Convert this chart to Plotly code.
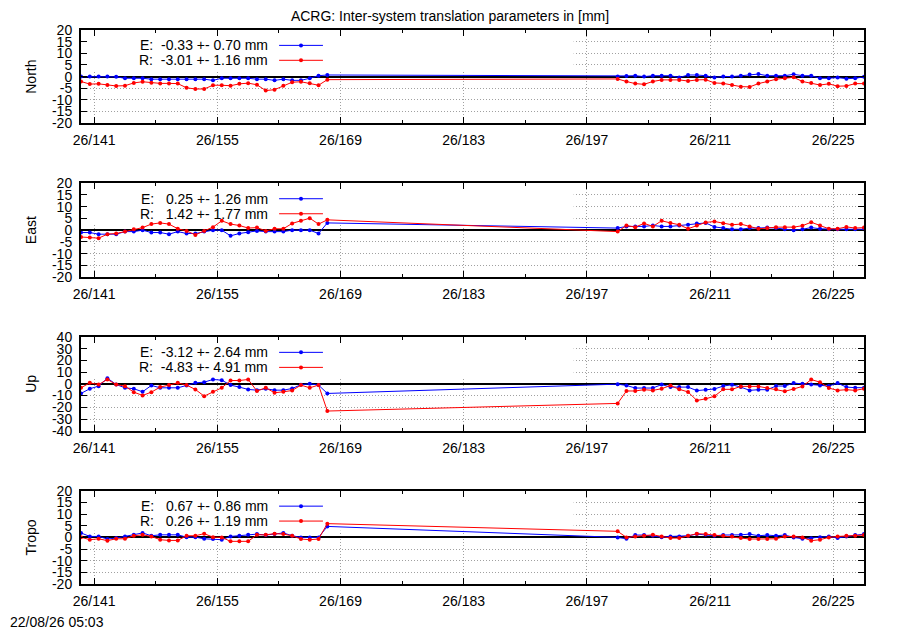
import plotly.graph_objects as go
from plotly.subplots import make_subplots

# day of year (2026), two observation blocks
days = [139.5, 140.5, 141.5, 142.5, 143.5, 144.5, 145.5, 146.5, 147.5, 148.5,
        149.5, 150.5, 151.5, 152.5, 153.5, 154.5, 155.5, 156.5, 157.5, 158.5,
        159.5, 160.5, 161.5, 162.5, 163.5, 164.5, 165.5, 166.5, 167.5,
        200.5, 201.5, 202.5, 203.5, 204.5, 205.5, 206.5, 207.5, 208.5, 209.5,
        210.5, 211.5, 212.5, 213.5, 214.5, 215.5, 216.5, 217.5, 218.5, 219.5,
        220.5, 221.5, 222.5, 223.5, 224.5, 225.5, 226.5, 227.5, 228.5]

north_e = [0, 0, 0, 0, -0.1, -0.7, -0.7, -0.7, -1.1, -1.1, -1.1, -1.1, -1.1, -1.1, -1.1,
           -1.6, -0.7, -0.7, -0.7, -0.7, -1.1, -1.1, -1.6, -1.1, -1.6, -1.6, -0.7, 0.4, 0.7,
           0, 0.3, 0.4, 0, 0.4, 0.4, 0.4, -0.4, 0.7, 0.7, 0.4, -0.4, 0.1, 0, 0.4,
           0.9, 1.1, 0.4, 0.4, 0.4, 1.0, 0.4, 0.4, -0.7, -0.7, -0.4, -0.9, -0.7, -0.1]
north_r = [-2.1, -3.2, -3.1, -3.6, -4.0, -3.9, -2.7, -2.2, -2.6, -2.9, -2.9, -3.0, -4.8, -5.3, -5.3,
           -3.7, -3.7, -3.9, -3.1, -2.8, -3.5, -6.0, -5.6, -3.9, -2.4, -2.2, -2.8, -3.7, -1.3,
           -1.0, -2.1, -3.0, -3.3, -2.1, -1.4, -1.4, -1.4, -1.9, -1.4, -1.3, -2.7, -2.9, -3.6, -4.3,
           -4.4, -3.0, -2.1, -1.1, -0.7, -0.3, -2.1, -2.7, -3.6, -3.1, -4.1, -4.0, -3.0, -3.0]

east_e = [-1, -1, -1.7, -1.7, -1.7, -0.6, -0.6, 0, -1, -1, -1.7, -0.6, -1.4, -1.4, -0.6,
          0, 0, -2.4, -1.4, -0.9, -0.3, -0.6, -0.6, -0.6, 0, 0, 0, -1.4, 3.1,
          0.9, 1.6, 1.6, 1.6, 2, 1.6, 1.6, 2, 2.3, 2.9, 3.1, 1.4, 0.9, 0.4, 0.4,
          0.9, 0.9, 1.1, 0.9, 0.4, 0, 0.4, 1.1, 0.6, 0.4, 0.4, 0.4, 0.4, 0.4]
east_r = [-2.9, -3.1, -3.4, -1.7, -1.4, -0.6, 0.4, 1.1, 2.6, 3.1, 2.6, 0.6, -0.3, -2, -0.3,
          1.3, 4, 2.6, 2, 0.9, 1.1, -0.3, 0.6, 0.6, 2.9, 4, 5.1, 2.6, 4.4,
          -0.6, 2, 1.3, 2.9, 1.6, 4, 3.1, 2.3, 0.6, 2, 3.3, 3.7, 3, 2.3, 2.6,
          1.6, 0.6, 0.9, 1.3, 1.3, 1.3, 1.9, 3.4, 2, 0.6, 0.6, 1.4, 0.9, 1.1]

up_e = [-8.2, -4.2, -2, 4.8, -0.6, -3.4, -4.2, -6.8, -1.4, -3.4, -3.4, -3.4, -1.4, 0.8, 1.4,
        3.7, 3.1, -1.1, -2.8, -4.8, -5.4, -4.2, -5.4, -5.4, -4, -0.8, 0, -1.1, -8.2,
        -0.3, -1.4, -3.6, -3.6, -3.6, -0.6, -2.8, -2.8, -2.8, -5.8, -5, -4.4, -1.9, -0.8, -2.8,
        -5.6, -5, -5, -1.9, -1.9, 0.6, 0, -0.6, -1.4, -1.9, 0.6, -2.8, -3.3, -3.3]
up_r = [-3.4, 0.8, -0.6, 3.7, -0.6, -2, -7.1, -9.9, -7.1, -2.8, -1.1, 0.8, -1.1, -4.8, -10.5,
        -6.8, -3.4, 2.8, 2.8, 3.7, -6.2, -3.4, -7.6, -6.8, -5.7, -1.1, -3.4, -1.1, -23.2,
        -16.7, -6.1, -6.1, -5, -5.6, -4.2, -1.4, -4.7, -6.9, -14.2, -12.8, -10.6, -4.7, -4.7, -2.2,
        -2.2, -2.2, -3.6, -4.7, -6.4, -4.4, -2.2, 3.6, 1.4, -3.6, -5.6, -5, -5.6, -4.2]

tropo_e = [1.9, 0.4, 0.4, -0.7, -0.3, 0.4, 1.1, 1.9, 0.7, 1.1, 1.1, 1.1, 0.1, 0.1, -0.6,
           -0.7, -1, 0.4, 0.7, 1.1, 1.4, 1, 1.4, 1.9, 0.7, 0, 0, 0, 4.7,
           0, -0.6, 1, 1, 0.7, 0.1, 0.4, 0.4, 0.7, 1.4, 1.1, 0.7, 1, 1, 1.1,
           1.4, 0.7, 1, 0.7, 1, 0, -0.6, -0.4, 0.1, 0.4, -0.3, 0.4, 1, 1.4]
tropo_r = [0.1, -1, -0.6, -1.4, -0.6, -0.6, 0.7, 1.1, 0.4, -1, -1.3, -1.3, 0.7, 0.7, 1.6,
           0.1, 0, -1.7, -1.7, -1.7, 1.1, 1.1, 1.6, 1.4, 0.7, -0.7, -1, -0.7, 5.9,
           2.6, 0, 0.4, 0.7, 1.1, 0.4, -0.3, -0.3, 0.7, 1.6, 1.4, 1, 0.7, 0.4, -0.3,
           -0.7, -0.7, -0.7, -0.6, 0.4, 0.4, 0, -1.4, -1, 0, 0.4, 0.7, 0.7, 1]

panels = ['North', 'East', 'Up', 'Tropo']
e_series = [north_e, east_e, up_e, tropo_e]
r_series = [north_r, east_r, up_r, tropo_r]
e_stats = ['-0.33 +- 0.70', ' 0.25 +- 1.26', '-3.12 +- 2.64', ' 0.67 +- 0.86']
r_stats = ['-3.01 +- 1.16', ' 1.42 +- 1.77', '-4.83 +- 4.91', ' 0.26 +- 1.19']

x_ticks = [141, 155, 169, 183, 197, 211, 225]
x_labels = ['26/141', '26/155', '26/169', '26/183', '26/197', '26/211', '26/225']
y_ticks_20 = [-20, -15, -10, -5, 0, 5, 10, 15, 20]
y_ticks_40 = [-40, -30, -20, -10, 0, 10, 20, 30, 40]

FONT = 'Liberation Sans, Arial, sans-serif'
domains = [[0.8317, 1.0], [0.5539, 0.7234], [0.2766, 0.4461], [0.0, 0.1683]]
X_MIN, X_MAX = 139.5, 228.5
KEY_X_END = 195.5   # right edge of the opaque key box (days)
KEY_FRAC = 0.57     # key box covers the panel above this height fraction

fig = make_subplots(rows=4, cols=1)

shapes = []
annotations = []
for i, name in enumerate(panels):
    row = i + 1
    fig.add_trace(go.Scatter(x=days, y=e_series[i], mode='lines+markers',
                             line=dict(color='#0000ff', width=1),
                             marker=dict(color='#0000ff', size=4),
                             showlegend=False), row=row, col=1)
    fig.add_trace(go.Scatter(x=days, y=r_series[i], mode='lines+markers',
                             line=dict(color='#ff0000', width=1),
                             marker=dict(color='#ff0000', size=4),
                             showlegend=False), row=row, col=1)

    yt = y_ticks_40 if name == 'Up' else y_ticks_20
    sfx = '' if i == 0 else str(row)
    fig.update_layout(**{
        'xaxis' + sfx: dict(
            domain=[0, 1], range=[X_MIN, X_MAX],
            tickvals=x_ticks, ticktext=x_labels,
            ticks='inside', ticklen=6, tickcolor='black',
            minor=dict(ticks='inside', tickvals=[148, 162, 176, 190, 204, 218],
                       ticklen=3, tickcolor='black', showgrid=False),
            showline=True, linecolor='black', linewidth=2, mirror='allticks',
            showgrid=True, gridcolor='#a0a0a0', griddash='1px,2px', gridwidth=1,
            zeroline=False, ticklabelstandoff=3,
            tickfont=dict(family=FONT, size=14, color='black')),
        'yaxis' + sfx: dict(
            domain=domains[i], range=[yt[0], yt[-1]],
            tickvals=yt, ticktext=[str(v) for v in yt],
            ticks='inside', ticklen=6, tickcolor='black',
            showline=True, linecolor='black', linewidth=2, mirror='allticks',
            showgrid=True, gridcolor='#a0a0a0', griddash='1px,2px', gridwidth=1,
            zeroline=True, zerolinecolor='black', zerolinewidth=1.5,
            ticklabelstandoff=4,
            tickfont=dict(family=FONT, size=14, color='black'),
            title=dict(text=name, font=dict(family=FONT, size=14, color='black'),
                       standoff=12)),
    })

    xr = 'x' + sfx
    yr = 'y' + sfx
    # opaque key box hiding the grid behind the key
    y_box = yt[0] + KEY_FRAC * (yt[-1] - yt[0])
    shapes.append(dict(type='rect', xref=xr, yref=yr, x0=X_MIN, x1=KEY_X_END,
                       y0=y_box, y1=yt[-1], fillcolor='white',
                       line=dict(width=0), layer='between'))
    for label, stats, color, yy in [('E:', e_stats[i], '#0000ff', 0.835),
                                    ('R:', r_stats[i], '#ff0000', 0.675)]:
        annotations.append(dict(
            xref=xr + ' domain', yref=yr + ' domain', x=0.2417, y=yy,
            xanchor='right', yanchor='middle',
            text=label + '\u00a0 ' + stats.replace(' ', '\u00a0') + ' mm', showarrow=False,
            font=dict(family=FONT, size=14, color='black')))
        shapes.append(dict(type='line', xref=xr + ' domain', yref=yr + ' domain',
                           x0=0.253, x1=0.309, y0=yy, y1=yy,
                           line=dict(color=color, width=1)))
        shapes.append(dict(type='circle', xref=xr + ' domain', yref=yr + ' domain',
                           xsizemode='pixel', ysizemode='pixel', xanchor=0.281, yanchor=yy,
                           x0=-2, x1=2, y0=-2, y1=2, fillcolor=color,
                           line=dict(color=color, width=0)))

annotations.append(dict(xref='paper', yref='paper', x=-0.093, y=-0.068,
                        xanchor='left', yanchor='middle', text='22/08/26 05:03',
                        showarrow=False, font=dict(family=FONT, size=14, color='black')))

# page body adds an 8px offset, so the figure is 8px smaller on each axis
fig.update_layout(
    width=892, height=622,
    margin=dict(l=73, r=36, t=22, b=46),
    paper_bgcolor='white', plot_bgcolor='white',
    title=dict(text='ACRG: Inter-system translation parameters in [mm]',
               x=(450 - 8) / 892, xanchor='center', y=1 - 3 / 622, yanchor='top',
               pad=dict(t=0, b=0, l=0, r=0),
               font=dict(family=FONT, size=14, color='black')),
    shapes=shapes, annotations=annotations,
    showlegend=False,
)

fig.write_html('out.html')
